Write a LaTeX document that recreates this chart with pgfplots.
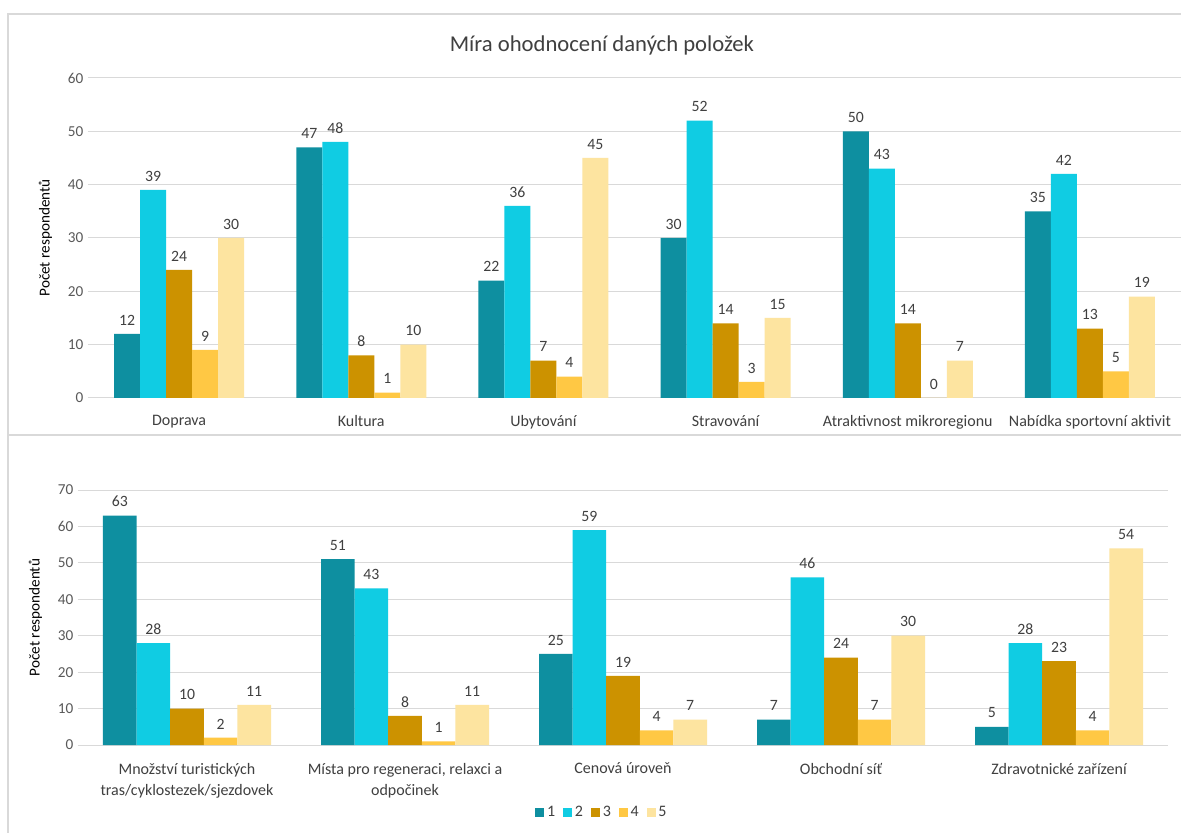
\documentclass[border=0pt]{standalone}
\usepackage{pgfplots}
\pgfplotsset{compat=1.18}
\usepackage{fontspec}
\setmainfont{Carlito}
\definecolor{cA}{HTML}{0E8FA0}
\definecolor{cB}{HTML}{10CCE3}
\definecolor{cC}{HTML}{CC9200}
\definecolor{cD}{HTML}{FFC844}
\definecolor{cE}{HTML}{FDE4A0}
\definecolor{gridc}{HTML}{D9D9D9}
\definecolor{tickc}{HTML}{595959}
\definecolor{txt}{HTML}{404040}
\pgfplotsset{
  mybar/.style={
    ybar=0pt,
    scale only axis,
    axis line style={draw=none},
    major tick length=0pt,
    ymajorgrids,
    grid style={gridc, line width=0.75pt},
    ymin=0,
    xtick=data,
    /pgf/number format/assume math mode=true,
    tick label style={font=\fontsize{11.4}{13}\selectfont},
    yticklabel style={text=tickc},
    xticklabel style={text=txt, font=\fontsize{12}{15.8}\selectfont},
    ylabel style={text=black, font=\fontsize{11.4}{13}\selectfont, yshift=5pt},
    nodes near coords,
    nodes near coords style={text=txt, font=\fontsize{11.8}{13}\selectfont, yshift=3pt},
    clip=false,
  }
}
\begin{document}
\begin{tikzpicture}
\useasboundingbox (0,0) rectangle (885.75pt,624pt);
\fill[white] (0,0) rectangle (885.75pt,624pt);
\draw[gridc, line width=0.9pt] (6pt,-5pt) rectangle (895pt,613.5pt);
\draw[gridc, line width=1.5pt] (6pt,297.75pt) -- (895pt,297.75pt);
\node[text=txt, font=\fontsize{17}{20}\selectfont] at (451.5pt,590.25pt) {Míra ohodnocení daných položek};

\begin{axis}[mybar,
  at={(66pt,325.5pt)}, anchor=south west,
  width=819.75pt, height=240pt,
  bar width=19.5pt,
  xmin=-0.5, xmax=5.5, ymax=60,
  ytick={0,10,20,30,40,50,60},
  xticklabels={Doprava,Kultura,Ubytování,Stravování,Atraktivnost mikroregionu,Nabídka sportovní aktivit},
  xticklabel style={yshift=-9.5pt},
  ylabel={Počet respondentů},
]
\addplot[fill=cA, draw=none] coordinates {(0,12) (1,47) (2,22) (3,30) (4,50) (5,35)};
\addplot[fill=cB, draw=none] coordinates {(0,39) (1,48) (2,36) (3,52) (4,43) (5,42)};
\addplot[fill=cC, draw=none] coordinates {(0,24) (1,8) (2,7) (3,14) (4,14) (5,13)};
\addplot[fill=cD, draw=none] coordinates {(0,9) (1,1) (2,4) (3,3) (4,0) (5,5)};
\addplot[fill=cE, draw=none] coordinates {(0,30) (1,10) (2,45) (3,15) (4,7) (5,19)};
\end{axis}

\begin{axis}[mybar,
  at={(58.5pt,65.25pt)}, anchor=south west,
  width=817.5pt, height=191.25pt,
  bar width=25.2pt,
  xmin=-0.5, xmax=4.5, ymax=70,
  ytick={0,10,20,30,40,50,60,70},
  xticklabels={{Množství turistických\\tras/cyklostezek/sjezdovek},{Místa pro regeneraci, relaxci a\\odpočinek},Cenová úroveň,Obchodní síť,Zdravotnické zařízení},
  xticklabel style={align=center, yshift=-10pt},
  ylabel={Počet respondentů},
  legend style={at={(0.481,-0.263)}, anchor=center, draw=none, fill=none,
    legend columns=5, font=\fontsize{12}{14}\selectfont, text=txt,
    /tikz/every even column/.append style={column sep=4pt}},
  legend image code/.code={\fill[#1] (0pt,-3.4pt) rectangle (6.8pt,3.4pt);},
]
\addplot[fill=cA, draw=none] coordinates {(0,63) (1,51) (2,25) (3,7) (4,5)};
\addplot[fill=cB, draw=none] coordinates {(0,28) (1,43) (2,59) (3,46) (4,28)};
\addplot[fill=cC, draw=none] coordinates {(0,10) (1,8) (2,19) (3,24) (4,23)};
\addplot[fill=cD, draw=none] coordinates {(0,2) (1,1) (2,4) (3,7) (4,4)};
\addplot[fill=cE, draw=none] coordinates {(0,11) (1,11) (2,7) (3,30) (4,54)};
\legend{1,2,3,4,5}
\end{axis}
\end{tikzpicture}
\end{document}
